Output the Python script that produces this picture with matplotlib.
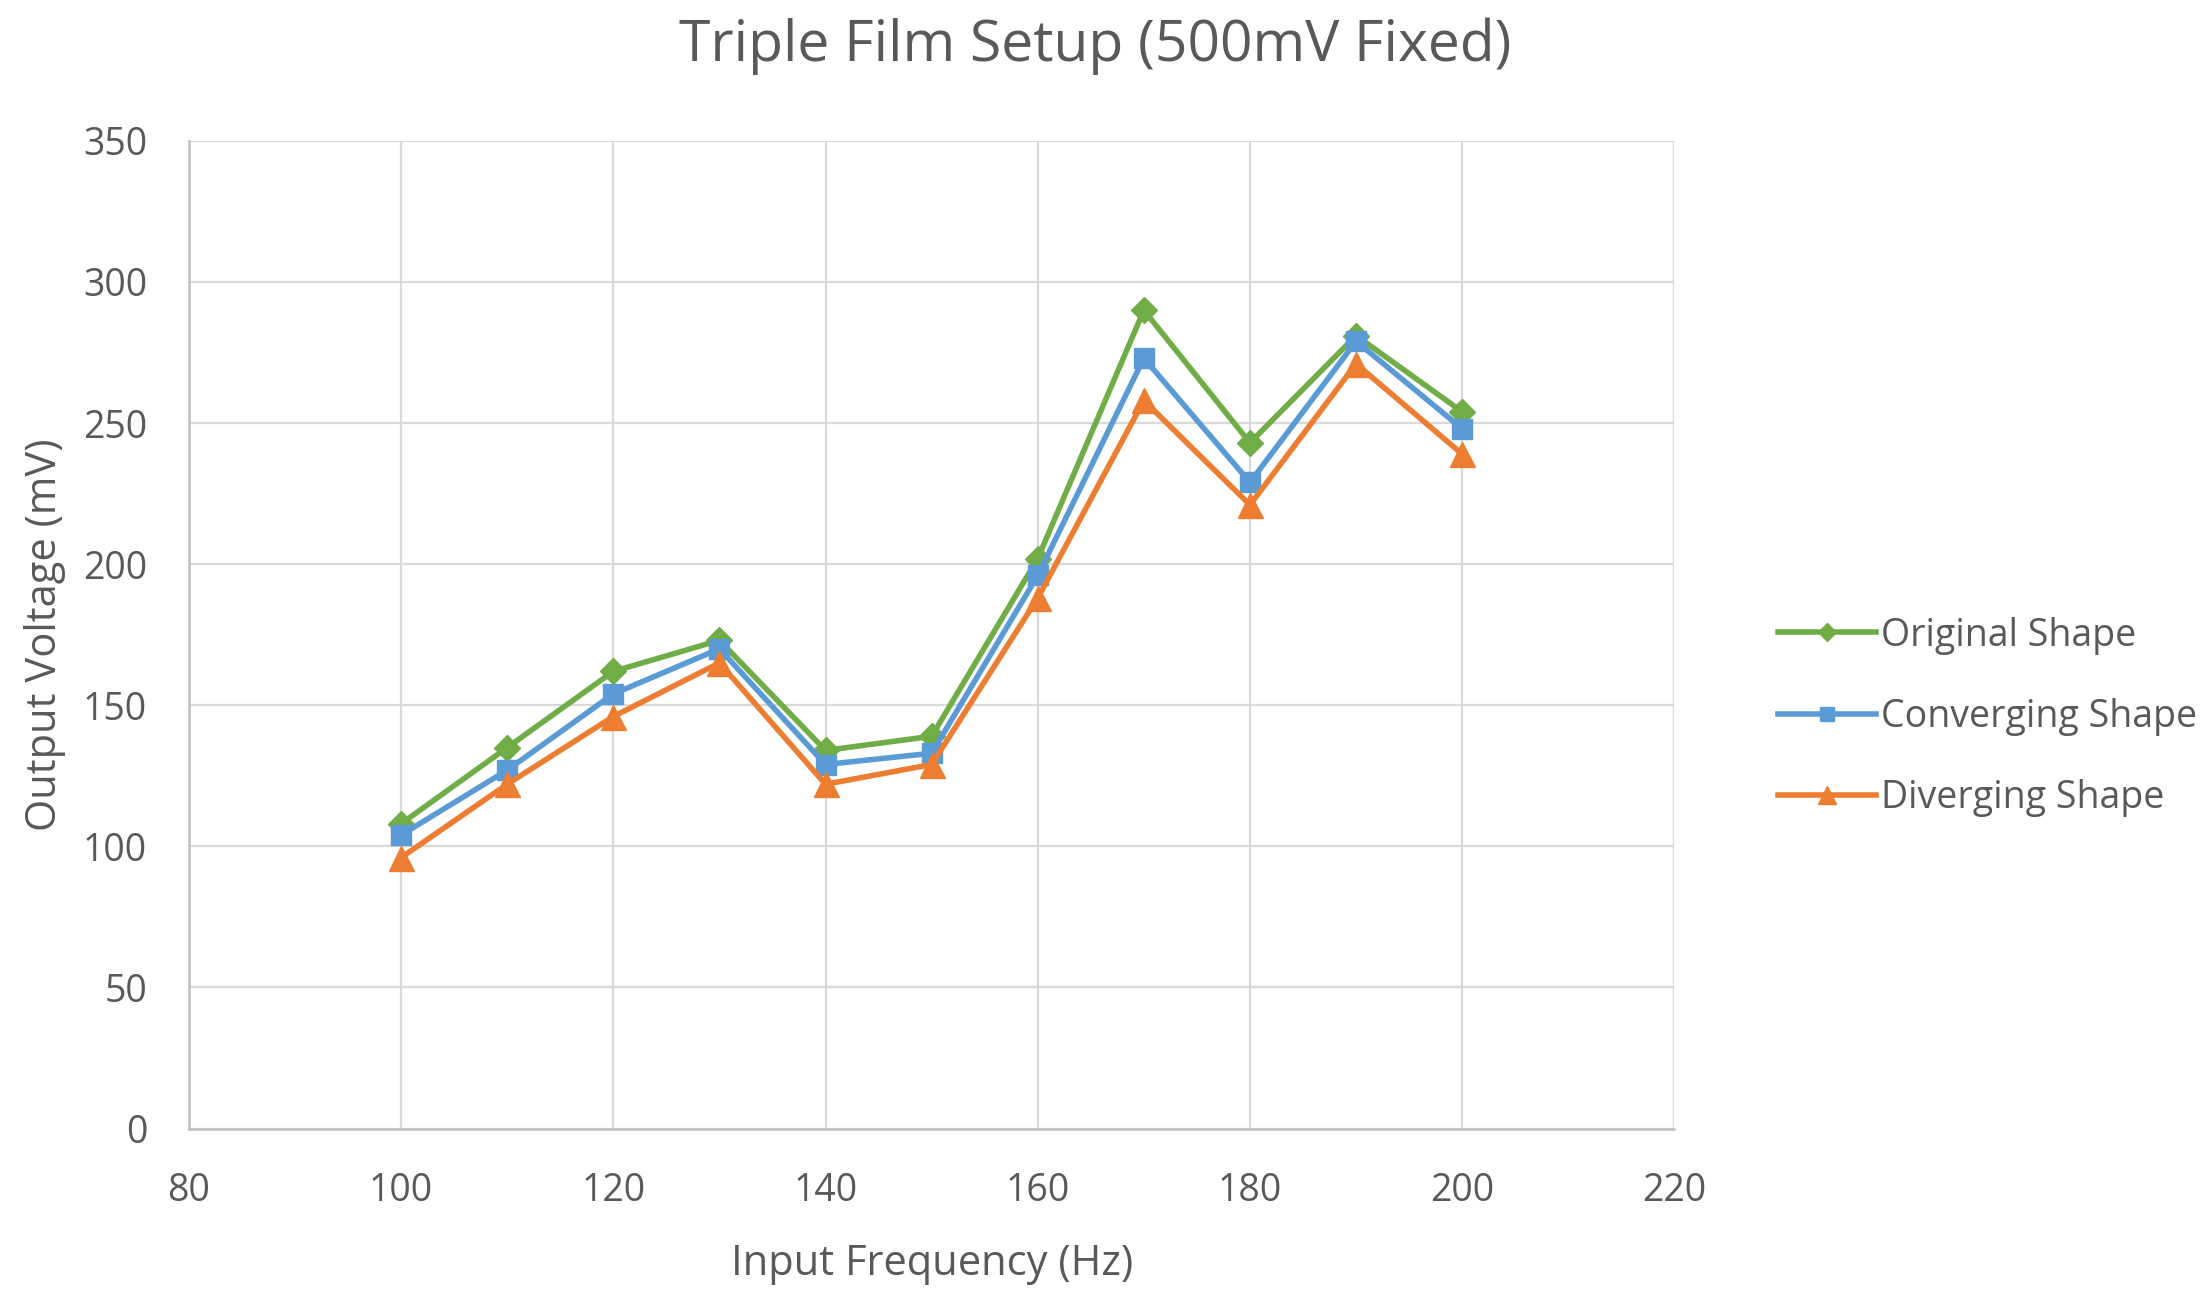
import matplotlib.pyplot as plt

plt.rcParams['font.family'] = ['Open Sans', 'DejaVu Sans']

freq = [100, 110, 120, 130, 140, 150, 160, 170, 180, 190, 200]
original = [108, 135, 162, 173, 134, 139, 202, 290, 243, 281, 254]
converging = [104, 127, 154, 170, 129, 133, 196, 273, 229, 279, 248]
diverging = [96, 122, 146, 165, 122, 129, 188, 258, 221, 271, 239]

text_color = "#595959"

fig = plt.figure(figsize=(22.09, 12.89), dpi=100)
ax = fig.add_axes([0.0855, 0.1245, 0.6725, 0.7662])

ax.plot(freq, original, color="#70AD47", lw=4, marker="D", ms=13, label="Original Shape")
ax.plot(freq, converging, color="#5B9BD5", lw=4, marker="s", ms=14, label="Converging Shape")
ax.plot(freq, diverging, color="#ED7D31", lw=4, marker="^", ms=18, label="Diverging Shape")

ax.set_xlim(80, 220)
ax.set_ylim(0, 350)
ax.set_xticks(range(80, 221, 20))
ax.set_yticks(range(0, 351, 50))
ax.grid(True, color="#d9d9d9", lw=1.6)
ax.set_axisbelow(True)
for side in ["top", "right"]:
    ax.spines[side].set_visible(False)
for side in ["left", "bottom"]:
    ax.spines[side].set_color("#bfbfbf")
    ax.spines[side].set_linewidth(1.8)
ax.tick_params(length=0, labelsize=27, labelcolor=text_color)
ax.tick_params(axis="y", pad=30)
ax.tick_params(axis="x", pad=31)

ax.set_xlabel("Input Frequency (Hz)", fontsize=30, color=text_color, labelpad=24)
ax.set_ylabel("Output Voltage (mV)", fontsize=30, color=text_color, labelpad=12)
fig.text(0.496, 0.964, "Triple Film Setup (500mV Fixed)", fontsize=41, color=text_color,
         ha="center", va="center")

fig.legend(loc="center left", bbox_to_anchor=(0.805, 0.444), frameon=False,
           fontsize=27, labelcolor=text_color, handlelength=2.6, handletextpad=0.15,
           labelspacing=1.15, markerscale=0.7, borderpad=0, borderaxespad=0)

fig.savefig("out.png", dpi=100)
